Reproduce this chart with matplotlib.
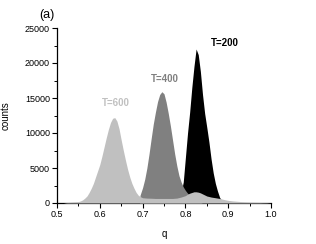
import matplotlib
matplotlib.use("Agg")
import matplotlib.pyplot as plt
from matplotlib.ticker import MultipleLocator

plt.rcParams['font.family'] = ['Liberation Sans', 'DejaVu Sans']

# T=600 (light gray)
q600 = [0.515, 0.52, 0.53, 0.54, 0.55, 0.555, 0.56, 0.565, 0.57, 0.575, 0.58, 0.585, 0.59, 0.595,
        0.60, 0.605, 0.61, 0.615, 0.62, 0.625, 0.63, 0.635, 0.64, 0.645, 0.65, 0.655, 0.66, 0.665,
        0.67, 0.675, 0.68, 0.685, 0.69, 0.695, 0.70, 0.71, 0.72, 0.73, 0.74, 0.75, 0.76, 0.77, 0.78,
        0.79, 0.80, 0.805, 0.81, 0.815, 0.82, 0.825, 0.83, 0.835, 0.84, 0.845, 0.85, 0.86, 0.87,
        0.88, 0.89, 0.90, 0.91, 0.92, 0.93, 0.94, 0.95, 0.96, 0.97, 0.98, 0.99, 1.0]
c600 = [0, 50, 100, 150, 200, 300, 450, 700, 1000, 1500, 2100, 2800, 3700, 4600,
        5500, 6700, 8000, 9300, 10500, 11500, 12100, 12200, 11700, 10600, 9000, 7500, 6100, 4800,
        3700, 2800, 2100, 1500, 1100, 900, 750, 700, 680, 650, 650, 650, 650, 650, 700,
        850, 1050, 1250, 1400, 1500, 1600, 1600, 1550, 1450, 1300, 1150, 1000, 850, 750,
        650, 500, 380, 300, 250, 200, 150, 120, 100, 80, 60, 50, 0]

# T=400 (dark gray)
q400 = [0.693, 0.694, 0.70, 0.705, 0.71, 0.715, 0.72, 0.725, 0.73, 0.735, 0.74, 0.745, 0.75, 0.755,
        0.76, 0.765, 0.77, 0.775, 0.78, 0.785, 0.79, 0.795, 0.80, 0.805, 0.81, 0.815, 0.82, 0.83, 0.84]
c400 = [0, 1100, 2200, 3400, 5000, 7000, 9200, 11300, 13000, 14500, 15500, 15900, 15600, 14400,
        12800, 11000, 9000, 7000, 5300, 3900, 3000, 2300, 1800, 1400, 1100, 800, 500, 200, 0]

# T=200 (black)
q200 = [0.78, 0.785, 0.79, 0.795, 0.80, 0.805, 0.81, 0.815, 0.82, 0.825, 0.83, 0.835, 0.84, 0.845,
        0.85, 0.855, 0.86, 0.865, 0.87, 0.875, 0.88, 0.885, 0.89]
c200 = [0, 500, 1500, 3000, 6500, 10000, 13000, 16500, 19500, 22000, 21200, 18800, 15500, 12800,
        10800, 8700, 6300, 4300, 2800, 1700, 800, 300, 0]

labels = ["T=600", "T=400", "T=200"]
label_pos = [(0.638, 14300), (0.753, 17700), (0.8925, 22800)]
colors = ["#c0c0c0", "#808080", "#000000"]

fig = plt.figure(figsize=(3.16, 2.44), dpi=100)
ax = fig.add_axes([57/316, 41/244, 214/316, 175/244])

ax.fill_between(q200, c200, 0, color=colors[2], lw=0, zorder=3)
ax.fill_between(q400, c400, 0, color=colors[1], lw=0, zorder=4)
ax.fill_between(q600, c600, 0, color=colors[0], lw=0, zorder=5)

for lab, (x, y), col in zip(labels, label_pos, colors):
    ax.text(x, y, lab, color=col, fontsize=7, fontweight='bold', ha='center', va='center')

ax.set_xlim(0.5, 1.0)
ax.set_ylim(0, 25000)
ax.xaxis.set_major_locator(MultipleLocator(0.1))
ax.xaxis.set_minor_locator(MultipleLocator(0.05))
ax.yaxis.set_major_locator(MultipleLocator(5000))
ax.yaxis.set_minor_locator(MultipleLocator(2500))
ax.xaxis.set_major_formatter(matplotlib.ticker.FormatStrFormatter('%.1f'))

for s in ['top', 'right']:
    ax.spines[s].set_visible(False)
for s in ['left', 'bottom']:
    ax.spines[s].set_linewidth(0.9)
    ax.spines[s].set_zorder(2)

ax.tick_params(which='major', direction='out', length=3.5, width=0.8, labelsize=6.5, pad=1.5)
ax.tick_params(which='minor', direction='out', length=2, width=0.7)

ax.set_xlabel('q', fontsize=7)
ax.set_ylabel('counts', fontsize=7)
ax.xaxis.set_label_coords(0.5, -0.15)
ax.yaxis.set_label_coords(-0.215, 0.5)

fig.text(47/316, 1 - 15/244, '(a)', fontsize=9, ha='center', va='center')

fig.savefig('out.png', dpi=100)
